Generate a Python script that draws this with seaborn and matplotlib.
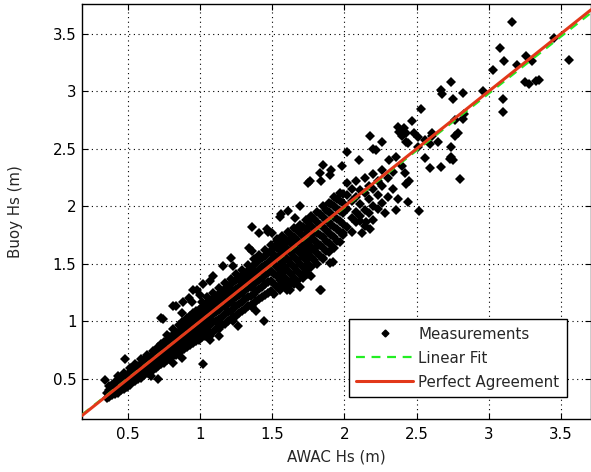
import numpy as np
import pandas as pd
import matplotlib
matplotlib.use("Agg")
import matplotlib.pyplot as plt
import seaborn as sns
from matplotlib.lines import Line2D

# ---- data (AWAC Hs vs Buoy Hs, metres) ----
core_awac = [
    0.35, 0.35, 0.37, 0.37, 0.37, 0.39, 0.39, 0.39, 0.41, 0.41, 0.41,
    0.43, 0.43, 0.43, 0.43, 0.45, 0.45, 0.45, 0.47, 0.47, 0.47, 0.47,
    0.49, 0.49, 0.49, 0.51, 0.51, 0.51, 0.51, 0.53, 0.53, 0.53,
    0.55, 0.55, 0.55, 0.55, 0.57, 0.57, 0.57, 0.59, 0.59, 0.59, 0.59,
    0.61, 0.61, 0.61, 0.63, 0.63, 0.63, 0.63, 0.65, 0.65, 0.65,
    0.67, 0.67, 0.67, 0.67,
    0.69, 0.69, 0.69, 0.69, 0.71, 0.71, 0.71, 0.71, 0.73, 0.73, 0.73, 0.73,
    0.75, 0.75, 0.75, 0.75, 0.77, 0.77, 0.77, 0.77, 0.77, 0.79, 0.79, 0.79, 0.79,
    0.81, 0.81, 0.81, 0.81, 0.81, 0.83, 0.83, 0.83, 0.83,
    0.85, 0.85, 0.85, 0.85, 0.85, 0.87, 0.87, 0.87, 0.87, 0.87,
    0.89, 0.89, 0.89, 0.89, 0.91, 0.91, 0.91, 0.91, 0.91,
    0.93, 0.93, 0.93, 0.93, 0.93, 0.95, 0.95, 0.95, 0.95, 0.95,
    0.97, 0.97, 0.97, 0.97, 0.97, 0.99, 0.99, 0.99, 0.99, 0.99,
    1.01, 1.01, 1.01, 1.01, 1.01, 1.01, 1.03, 1.03, 1.03, 1.03, 1.03,
    1.05, 1.05, 1.05, 1.05, 1.05, 1.05, 1.07, 1.07, 1.07, 1.07, 1.07,
    1.09, 1.09, 1.09, 1.09, 1.09, 1.09, 1.11, 1.11, 1.11, 1.11, 1.11,
    1.13, 1.13, 1.13, 1.13, 1.13, 1.13, 1.15, 1.15, 1.15, 1.15, 1.15,
    1.17, 1.17, 1.17, 1.17, 1.17, 1.17, 1.19, 1.19, 1.19, 1.19, 1.19,
    1.21, 1.21, 1.21, 1.21, 1.21, 1.21, 1.23, 1.23, 1.23, 1.23, 1.23,
    1.25, 1.25, 1.25, 1.25, 1.25, 1.25, 1.27, 1.27, 1.27, 1.27, 1.27,
    1.29, 1.29, 1.29, 1.29, 1.29, 1.29, 1.31, 1.31, 1.31, 1.31, 1.31,
    1.33, 1.33, 1.33, 1.33, 1.33, 1.33, 1.35, 1.35, 1.35, 1.35, 1.35,
    1.37, 1.37, 1.37, 1.37, 1.37, 1.37, 1.39, 1.39, 1.39, 1.39, 1.39,
    1.41, 1.41, 1.41, 1.41, 1.41, 1.41, 1.43, 1.43, 1.43, 1.43, 1.43,
    1.45, 1.45, 1.45, 1.45, 1.45, 1.45, 1.47, 1.47, 1.47, 1.47, 1.47,
    1.49, 1.49, 1.49, 1.49, 1.49, 1.49,
    1.51, 1.51, 1.51, 1.51, 1.51, 1.51, 1.53, 1.53, 1.53, 1.53, 1.53, 1.53,
    1.55, 1.55, 1.55, 1.55, 1.55, 1.55, 1.57, 1.57, 1.57, 1.57, 1.57, 1.57,
    1.59, 1.59, 1.59, 1.59, 1.59, 1.59, 1.61, 1.61, 1.61, 1.61, 1.61, 1.61,
    1.63, 1.63, 1.63, 1.63, 1.63, 1.63, 1.65, 1.65, 1.65, 1.65, 1.65, 1.65,
    1.67, 1.67, 1.67, 1.67, 1.67, 1.67, 1.69, 1.69, 1.69, 1.69, 1.69, 1.69,
    1.71, 1.71, 1.71, 1.71, 1.71, 1.71, 1.73, 1.73, 1.73, 1.73, 1.73, 1.73,
    1.75, 1.75, 1.75, 1.75, 1.75, 1.75, 1.77, 1.77, 1.77, 1.77, 1.77, 1.77,
    1.79, 1.79, 1.79, 1.79, 1.79, 1.81, 1.81, 1.81, 1.81, 1.81, 1.81,
    1.83, 1.83, 1.83, 1.83, 1.83, 1.85, 1.85, 1.85, 1.85, 1.85, 1.85,
    1.87, 1.87, 1.87, 1.87, 1.87, 1.89, 1.89, 1.89, 1.89, 1.89, 1.89,
    1.91, 1.91, 1.91, 1.91, 1.91, 1.93, 1.93, 1.93, 1.93, 1.93, 1.93,
    1.95, 1.95, 1.95, 1.95, 1.95, 1.97, 1.97, 1.97, 1.97, 1.97, 1.97,
    1.99, 1.99, 1.99, 1.99, 1.99,
    2.02, 2.02, 2.02, 2.02, 2.05, 2.05, 2.05, 2.05, 2.08, 2.08, 2.08, 2.08,
    2.11, 2.11, 2.11, 2.14, 2.14, 2.14, 2.14, 2.17, 2.17, 2.17,
    2.20, 2.20, 2.20, 2.20, 2.23, 2.23, 2.23, 2.26, 2.26, 2.26,
    2.30, 2.30, 2.34, 2.34,
]
core_buoy = [
    0.33, 0.38, 0.34, 0.40, 0.44, 0.36, 0.41, 0.45, 0.37, 0.43, 0.47,
    0.38, 0.42, 0.48, 0.52, 0.40, 0.45, 0.50, 0.41, 0.47, 0.53, 0.55,
    0.43, 0.48, 0.52, 0.45, 0.50, 0.56, 0.59, 0.47, 0.52, 0.57,
    0.48, 0.54, 0.60, 0.63, 0.50, 0.56, 0.61, 0.51, 0.58, 0.63, 0.67,
    0.53, 0.60, 0.66, 0.55, 0.61, 0.67, 0.71, 0.56, 0.63, 0.69,
    0.58, 0.65, 0.71, 0.74,
    0.59, 0.64, 0.69, 0.75, 0.61, 0.67, 0.72, 0.78, 0.63, 0.68, 0.74, 0.80,
    0.64, 0.70, 0.76, 0.82, 0.66, 0.72, 0.78, 0.84, 0.88, 0.68, 0.74, 0.80, 0.86,
    0.70, 0.76, 0.82, 0.88, 0.93, 0.71, 0.77, 0.84, 0.90,
    0.73, 0.79, 0.85, 0.91, 0.97, 0.75, 0.81, 0.87, 0.93, 0.99,
    0.76, 0.83, 0.89, 0.95, 0.78, 0.84, 0.90, 0.96, 1.03,
    0.79, 0.86, 0.92, 0.98, 1.05, 0.81, 0.87, 0.94, 1.00, 1.07,
    0.83, 0.89, 0.96, 1.02, 1.09, 0.84, 0.91, 0.98, 1.04, 1.10,
    0.86, 0.92, 0.99, 1.05, 1.12, 1.17, 0.87, 0.94, 1.01, 1.07, 1.14,
    0.88, 0.95, 1.02, 1.09, 1.16, 1.21, 0.90, 0.97, 1.04, 1.11, 1.18,
    0.91, 0.99, 1.06, 1.13, 1.20, 1.25, 0.93, 1.00, 1.08, 1.15, 1.22,
    0.95, 1.02, 1.10, 1.17, 1.24, 1.29, 0.97, 1.04, 1.12, 1.19, 1.26,
    0.98, 1.06, 1.13, 1.21, 1.28, 1.33, 1.00, 1.08, 1.15, 1.23, 1.30,
    1.02, 1.09, 1.17, 1.24, 1.32, 1.37, 1.04, 1.11, 1.19, 1.26, 1.34,
    1.05, 1.13, 1.21, 1.28, 1.36, 1.41, 1.07, 1.15, 1.23, 1.30, 1.38,
    1.09, 1.17, 1.25, 1.33, 1.40, 1.45, 1.11, 1.19, 1.27, 1.35, 1.42,
    1.13, 1.21, 1.29, 1.37, 1.44, 1.49, 1.14, 1.22, 1.30, 1.39, 1.46,
    1.16, 1.24, 1.32, 1.41, 1.49, 1.54, 1.18, 1.26, 1.34, 1.43, 1.51,
    1.19, 1.28, 1.36, 1.45, 1.53, 1.58, 1.21, 1.30, 1.38, 1.47, 1.55,
    1.23, 1.32, 1.40, 1.49, 1.57, 1.62, 1.25, 1.34, 1.42, 1.51, 1.59,
    1.26, 1.35, 1.44, 1.53, 1.61, 1.66,
    1.24, 1.32, 1.41, 1.50, 1.58, 1.65, 1.30, 1.39, 1.47, 1.56, 1.64, 1.70,
    1.27, 1.36, 1.45, 1.54, 1.62, 1.69, 1.33, 1.42, 1.51, 1.59, 1.67, 1.74,
    1.30, 1.38, 1.47, 1.56, 1.65, 1.72, 1.35, 1.44, 1.53, 1.62, 1.70, 1.78,
    1.32, 1.41, 1.50, 1.59, 1.68, 1.75, 1.38, 1.47, 1.56, 1.65, 1.73, 1.81,
    1.35, 1.44, 1.53, 1.62, 1.71, 1.79, 1.41, 1.50, 1.59, 1.68, 1.77, 1.84,
    1.38, 1.47, 1.56, 1.65, 1.74, 1.82, 1.44, 1.53, 1.62, 1.71, 1.80, 1.88,
    1.41, 1.50, 1.59, 1.68, 1.77, 1.86, 1.47, 1.56, 1.65, 1.74, 1.83, 1.92,
    1.53, 1.62, 1.71, 1.80, 1.89, 1.50, 1.59, 1.68, 1.77, 1.86, 1.95,
    1.57, 1.66, 1.75, 1.84, 1.93, 1.55, 1.64, 1.73, 1.82, 1.91, 2.00,
    1.61, 1.70, 1.79, 1.88, 1.97, 1.60, 1.68, 1.77, 1.86, 1.95, 2.03,
    1.66, 1.75, 1.84, 1.93, 2.02, 1.64, 1.73, 1.82, 1.91, 2.00, 2.08,
    1.70, 1.80, 1.89, 1.98, 2.06, 1.69, 1.78, 1.87, 1.96, 2.05, 2.12,
    1.75, 1.85, 1.94, 2.03, 2.11,
    1.82, 1.98, 2.10, 2.20, 1.78, 1.90, 2.05, 2.15, 1.86, 1.95, 2.08, 2.22,
    1.92, 2.02, 2.14, 1.83, 1.97, 2.12, 2.25, 1.94, 2.06, 2.18,
    1.88, 2.00, 2.15, 2.28, 1.98, 2.10, 2.22, 2.03, 2.18, 2.32,
    2.08, 2.25, 2.15, 2.30,
]
outlier_awac = [
    3.16, 3.08, 3.11, 3.03, 3.20, 3.26, 3.30, 3.45, 3.56, 3.25, 3.28, 3.33, 3.35,
    3.10, 3.10, 2.96, 2.74, 2.82, 2.67, 2.68, 2.75, 2.53, 2.83, 2.82, 2.77, 2.79,
    2.77, 2.74, 2.61, 2.61, 2.65, 2.56, 2.59, 2.47, 2.41, 2.43, 2.40, 2.44, 2.48,
    2.51, 2.37, 2.38, 2.18, 2.26, 2.22, 2.20, 2.02, 2.43, 2.31, 2.36, 2.40, 2.42,
    2.45, 2.43, 2.56, 2.59, 2.51, 2.74, 2.75, 2.73, 2.67, 2.80, 2.52, 2.44, 2.37,
    2.36, 2.28, 2.18, 2.15, 2.11, 2.10, 1.98, 1.91, 1.85, 1.83, 1.90, 1.76, 1.75,
    1.84, 1.69, 1.36, 1.55, 1.46, 1.41, 1.50, 1.47, 1.53, 1.56, 1.61, 1.66, 1.34,
    1.36, 1.21, 1.23, 1.16, 1.09, 1.07, 1.02, 0.95, 0.92, 0.88, 1.83, 1.77, 1.69,
    1.85, 1.80, 1.44, 1.26, 1.23, 1.13, 1.07, 1.02, 1.36, 1.39, 1.60, 1.65, 1.84,
    1.90, 1.92, 1.99, 2.12, 1.62, 0.74, 0.81, 0.87, 0.94, 0.98, 1.00, 0.48, 0.34,
    0.55, 0.70, 0.66, 0.81, 0.87, 0.71, 0.73, 0.83, 1.07, 1.13,
]
outlier_buoy = [
    3.60, 3.38, 3.26, 3.19, 3.23, 3.31, 3.26, 3.46, 3.27, 3.08, 3.06, 3.09, 3.10,
    2.93, 2.82, 3.00, 3.08, 2.99, 3.01, 2.98, 2.93, 2.85, 2.80, 2.76, 2.75, 2.64,
    2.61, 2.52, 2.64, 2.61, 2.56, 2.58, 2.54, 2.74, 2.68, 2.64, 2.61, 2.55, 2.64,
    2.60, 2.69, 2.65, 2.61, 2.56, 2.49, 2.50, 2.47, 2.56, 2.40, 2.43, 2.35, 2.29,
    2.22, 2.19, 2.42, 2.33, 2.52, 2.43, 2.40, 2.41, 2.34, 2.24, 1.96, 2.04, 2.06,
    1.97, 1.94, 1.80, 1.86, 1.87, 2.40, 2.35, 2.32, 2.36, 2.29, 2.27, 2.22, 2.20,
    2.22, 2.00, 1.82, 1.91, 1.80, 1.77, 1.77, 1.78, 1.72, 1.93, 1.96, 1.90, 1.64,
    1.61, 1.55, 1.48, 1.48, 1.39, 1.35, 1.32, 1.27, 1.20, 1.17, 1.27, 1.39, 1.30,
    1.54, 1.65, 1.00, 0.96, 1.00, 0.87, 0.87, 0.63, 1.12, 1.09, 1.27, 1.32, 1.27,
    1.51, 1.52, 1.77, 1.77, 1.27, 1.02, 1.13, 1.07, 1.17, 1.27, 1.23, 0.67, 0.49,
    0.62, 0.61, 0.52, 0.64, 0.68, 0.50, 1.03, 1.13, 0.84, 0.93,
]
fit_slope = 0.99
fit_intercept = 0.01
x_limits = [0.18, 3.71]
y_limits = [0.15, 3.76]
x_ticks = [0.5, 1, 1.5, 2, 2.5, 3, 3.5]
y_ticks = [0.5, 1, 1.5, 2, 2.5, 3, 3.5]
legend_labels = ["Measurements", "Linear Fit", "Perfect Agreement"]

df = pd.DataFrame({
    "AWAC Hs (m)": core_awac + outlier_awac,
    "Buoy Hs (m)": core_buoy + outlier_buoy,
})

sns.set_theme(style="white")
plt.rcParams["font.family"] = ["DejaVu Sans"]

FS = 10.8
GREEN = "#22ee22"
RED = "#e2381a"
rect = [0.1388, 0.1123, 0.8612, 0.8792]
fig = plt.figure(figsize=(5.91, 4.72), dpi=100)
ax = fig.add_axes(rect)

# measurements drawn as marker-only line artist (raw values, no aggregation)
sns.lineplot(data=df, x="AWAC Hs (m)", y="Buoy Hs (m)", ax=ax,
             estimator=None, sort=False, linestyle="", marker="D",
             markersize=5.2, markeredgewidth=0, color="black", zorder=2)

xl = np.array(x_limits)
ax.plot(xl, fit_slope * xl + fit_intercept, color=GREEN, lw=1.6,
        ls=(0, (4, 3)), zorder=10)
ax.plot(xl, xl, color=RED, lw=2.2, zorder=11)

ax.set_xlim(*x_limits)
ax.set_ylim(*y_limits)
ax.set_xticks(x_ticks)
ax.set_yticks(y_ticks)
ax.set_xticklabels([f"{t:g}" for t in x_ticks])
ax.set_yticklabels([f"{t:g}" for t in y_ticks])
ax.grid(True, color="black", ls=(0, (1, 3.2)), lw=0.8)
ax.set_axisbelow(True)
ax.tick_params(direction="in", length=4, width=0.8, top=True, right=True,
               bottom=True, left=True, labelsize=FS, colors="black", pad=4)
ax.tick_params(axis="x", pad=6)
for sp in ax.spines.values():
    sp.set_color("black")
    sp.set_linewidth(1.0)
ax.set_xlabel("AWAC Hs (m)", fontsize=FS, labelpad=5)
ax.set_ylabel("Buoy Hs (m)", fontsize=FS, labelpad=21)

handles = [
    Line2D([], [], marker="D", ls="none", color="black", markersize=3.5),
    Line2D([], [], color=GREEN, lw=1.6, ls=(0, (4, 3))),
    Line2D([], [], color=RED, lw=2.2),
]
leg = ax.legend(handles, legend_labels, loc="lower right",
                bbox_to_anchor=(0.953, 0.053), fontsize=FS, frameon=True,
                fancybox=False, edgecolor="black", framealpha=1,
                handlelength=3.8, labelspacing=0.6, borderpad=0.5,
                handletextpad=0.35, borderaxespad=0)
leg.get_frame().set_linewidth(1.0)
leg.set_zorder(20)

fig.savefig("out.png", dpi=100)
